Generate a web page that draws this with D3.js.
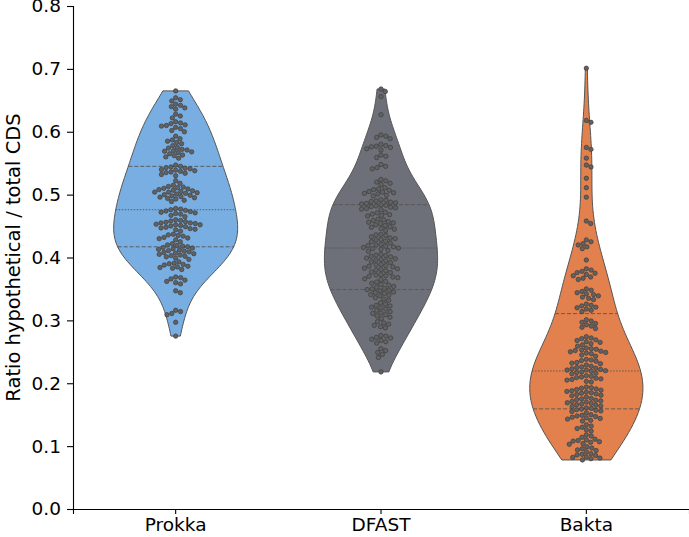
<!DOCTYPE html>
<html>
<head>
<meta charset="utf-8">
<script src="https://cdn.jsdelivr.net/npm/d3@7"></script>
<style>
  body { margin: 0; background: #fff; }
  svg text { font-family: "DejaVu Sans", sans-serif; fill: #000; }
</style>
</head>
<body>
<div id="chart"></div>
<script>
// tools on the x axis
const categories = ["Prokka", "DFAST", "Bakta"];

// ratio hypothetical / total CDS
const prokka = [
  0.665,
  0.654, 0.651, 0.649,
  0.644, 0.642, 0.640, 0.638, 0.636,
  0.628, 0.625, 0.622,
  0.616, 0.614, 0.613, 0.611, 0.610, 0.609, 0.607, 0.605, 0.602, 0.600,
  0.593, 0.589, 0.587, 0.585, 0.583, 0.581, 0.578,
  0.575, 0.574, 0.572, 0.571, 0.570, 0.569, 0.568, 0.567, 0.565, 0.563, 0.562, 0.560, 0.558,
  0.547, 0.545, 0.544, 0.543, 0.542, 0.541, 0.540, 0.539, 0.538, 0.537, 0.536, 0.535, 0.534, 0.532, 0.530,
  0.522, 0.518,
  0.515, 0.513, 0.512, 0.511, 0.510, 0.509, 0.508, 0.507, 0.506, 0.505, 0.504, 0.504, 0.503, 0.502, 0.501,
  0.500, 0.499, 0.498, 0.497, 0.496, 0.495, 0.494, 0.493, 0.491, 0.489,
  0.478, 0.477, 0.476, 0.475, 0.474, 0.473, 0.472, 0.471, 0.470, 0.469, 0.467, 0.465,
  0.460, 0.459, 0.458, 0.457, 0.456, 0.455, 0.455, 0.454, 0.453, 0.452, 0.452, 0.451, 0.450, 0.449, 0.448,
  0.447, 0.446, 0.445, 0.444, 0.442,
  0.437, 0.436, 0.435, 0.434, 0.432, 0.431, 0.430, 0.428, 0.425, 0.422,
  0.420, 0.419, 0.418, 0.417, 0.416, 0.415, 0.414, 0.413, 0.412, 0.411, 0.410, 0.409, 0.408, 0.407,
  0.406, 0.405, 0.404, 0.403, 0.402, 0.401, 0.399, 0.397,
  0.393, 0.391, 0.390, 0.389, 0.388, 0.386, 0.385, 0.384, 0.383, 0.381,
  0.369, 0.368, 0.366, 0.364, 0.362, 0.360, 0.358,
  0.347, 0.344,
  0.316, 0.314, 0.311, 0.309,
  0.297,
  0.275
];

const dfast = [
  0.668, 0.664,
  0.656,
  0.627,
  0.595, 0.593, 0.591, 0.589,
  0.580, 0.578, 0.577, 0.576, 0.575, 0.573, 0.571,
  0.563, 0.561, 0.559,
  0.548, 0.545, 0.543, 0.541,
  0.524, 0.522, 0.520, 0.518, 0.516,
  0.511, 0.509, 0.508, 0.507, 0.505, 0.504, 0.503, 0.502, 0.501, 0.499, 0.498,
  0.492, 0.491, 0.490, 0.489, 0.488, 0.487, 0.486, 0.485, 0.484, 0.483, 0.482, 0.481, 0.480, 0.479, 0.478, 0.477, 0.476,
  0.472, 0.471, 0.469, 0.468, 0.467, 0.466,
  0.461, 0.460, 0.459, 0.457, 0.456, 0.455, 0.454, 0.452, 0.451,
  0.449, 0.448, 0.446, 0.445, 0.443,
  0.437, 0.436, 0.435, 0.433, 0.431, 0.430, 0.429, 0.428, 0.426, 0.425, 0.423,
  0.421, 0.420, 0.419, 0.418, 0.417, 0.416, 0.415, 0.414, 0.413, 0.411, 0.410,
  0.405, 0.404, 0.403, 0.402, 0.401, 0.399, 0.398, 0.397, 0.396, 0.395, 0.393, 0.392,
  0.389, 0.388, 0.387, 0.386, 0.385, 0.383, 0.382, 0.381, 0.380, 0.379, 0.377, 0.376,
  0.373, 0.372, 0.371, 0.370, 0.369, 0.368, 0.366, 0.365,
  0.362, 0.361, 0.359, 0.357, 0.356, 0.354, 0.353,
  0.351, 0.350, 0.349, 0.348, 0.347, 0.345, 0.344, 0.343, 0.341, 0.340,
  0.339, 0.336, 0.334, 0.332, 0.328,
  0.326, 0.324, 0.323, 0.321, 0.320, 0.318, 0.316, 0.314,
  0.312, 0.311, 0.309, 0.307, 0.305, 0.303,
  0.298, 0.296, 0.294, 0.292, 0.290, 0.288,
  0.276, 0.275, 0.273, 0.272, 0.270, 0.268, 0.266, 0.264,
  0.255, 0.252, 0.249, 0.246,
  0.241,
  0.218
];

const bakta = [
  0.701,
  0.618, 0.615,
  0.575, 0.572,
  0.558,
  0.547, 0.544,
  0.526,
  0.511,
  0.496,
  0.458, 0.454,
  0.428, 0.425, 0.422, 0.420, 0.417, 0.414,
  0.396,
  0.382, 0.380, 0.378, 0.376, 0.375, 0.373, 0.371, 0.369, 0.367, 0.365,
  0.350, 0.348, 0.346, 0.344, 0.342, 0.341, 0.339, 0.337, 0.335, 0.333,
  0.326, 0.324, 0.323, 0.321, 0.320, 0.318, 0.316, 0.314,
  0.301, 0.299, 0.297, 0.295, 0.293, 0.291, 0.289, 0.287,
  0.274, 0.272, 0.271, 0.269, 0.268, 0.266, 0.265, 0.263, 0.261, 0.259,
  0.256, 0.255, 0.254, 0.253, 0.252, 0.251, 0.250, 0.249, 0.248, 0.247, 0.245, 0.243,
  0.238, 0.237, 0.236, 0.235, 0.233, 0.232, 0.231, 0.229,
  0.227, 0.226, 0.225, 0.224, 0.223, 0.222, 0.221, 0.221, 0.220, 0.219, 0.218, 0.217, 0.216, 0.215,
  0.212, 0.211, 0.210, 0.209, 0.208, 0.207, 0.206, 0.205, 0.203, 0.202,
  0.194, 0.193, 0.192, 0.191, 0.190, 0.189, 0.188, 0.187, 0.186, 0.185, 0.184, 0.183, 0.182, 0.181, 0.180, 0.178,
  0.176, 0.175, 0.174, 0.173, 0.172, 0.171, 0.170, 0.169, 0.168, 0.167, 0.166, 0.165, 0.164, 0.163,
  0.161, 0.160, 0.159, 0.158, 0.157, 0.156, 0.155, 0.153,
  0.150, 0.149, 0.148, 0.147, 0.146, 0.145, 0.144, 0.143, 0.141, 0.140,
  0.134, 0.132, 0.130, 0.128, 0.126, 0.124,
  0.118, 0.116, 0.114,
  0.111, 0.110, 0.109, 0.108, 0.107, 0.106, 0.104, 0.103,
  0.099, 0.097, 0.096, 0.094, 0.093, 0.091,
  0.088, 0.087, 0.086, 0.085, 0.083, 0.082, 0.081, 0.080,
  0.078
];

const colors = ["#78aee2", "#6d7079", "#e2814d"];
const yTicks = [0.0, 0.1, 0.2, 0.3, 0.4, 0.5, 0.6, 0.7, 0.8];

const width = 689, height = 537;
const margin = { top: 6, right: 0, bottom: 28, left: 73 };
const plotBottom = height - margin.bottom; // 509

const svg = d3.select('#chart')
  .append('svg')
  .attr('width', width)
  .attr('height', height);

const xScale = d3.scaleBand()
  .domain(categories)
  .range([margin.left, width - margin.right])
  .paddingInner(0).paddingOuter(0);

const yScale = d3.scaleLinear()
  .domain([0, 0.8])
  .range([plotBottom, margin.top]);

// gaussian kde, scott bandwidth (a bit widened), cut at data range
const bwAdjust = 1.1;
function kde(values, n) {
  const sorted = values.slice().sort(d3.ascending);
  const sd = d3.deviation(sorted);
  const bw = bwAdjust * sd * Math.pow(sorted.length, -1 / 5);
  const lo = sorted[0], hi = sorted[sorted.length - 1];
  const grid = d3.range(n).map(i => lo + (hi - lo) * i / (n - 1));
  const k = 1 / (Math.sqrt(2 * Math.PI) * bw * sorted.length);
  return grid.map(g => [g, k * d3.sum(sorted, v => Math.exp(-0.5 * ((g - v) / bw) ** 2))]);
}

function densityAt(dens, v) {
  const i = d3.bisector(d => d[0]).left(dens, v);
  if (i <= 0) return dens[0][1];
  if (i >= dens.length) return dens[dens.length - 1][1];
  const a = dens[i - 1], b = dens[i];
  const t = (v - a[0]) / (b[0] - a[0]);
  return a[1] + t * (b[1] - a[1]);
}

const groups = [prokka, dfast, bakta].map((vals, i) => ({
  name: categories[i],
  values: vals,
  dens: kde(vals, 100),
  color: colors[i]
}));

const maxDens = d3.max(groups, g => d3.max(g.dens, d => d[1]));
const halfWidth = d3.scaleLinear().domain([0, maxDens]).range([0, 62]);

// violins
groups.forEach(g => {
  const cx = xScale(g.name) + xScale.bandwidth() / 2;
  const area = d3.area()
    .x0(d => cx - halfWidth(d[1]))
    .x1(d => cx + halfWidth(d[1]))
    .y(d => yScale(d[0]))
    .curve(d3.curveLinear);
  svg.append('path')
    .datum(g.dens)
    .attr('d', area)
    .attr('fill', g.color)
    .attr('stroke', '#555')
    .attr('stroke-width', 1)
    .attr('stroke-linejoin', 'round');

  // quartile lines
  const sorted = g.values.slice().sort(d3.ascending);
  [[0.25, '4,2'], [0.5, '1.5,1.5'], [0.75, '4,2']].forEach(([p, dash]) => {
    const q = d3.quantile(sorted, p);
    const w = halfWidth(densityAt(g.dens, q));
    svg.append('line')
      .attr('x1', cx - w).attr('x2', cx + w)
      .attr('y1', yScale(q)).attr('y2', yScale(q))
      .attr('stroke', '#555')
      .attr('stroke-width', 0.9)
      .attr('stroke-dasharray', dash);
  });
});

// swarm placement
function beeswarm(values, cx, d) {
  const pts = values.map(v => ({ v, y: yScale(v) })).sort((a, b) => a.y - b.y);
  const placed = [];
  pts.forEach(p => {
    const near = placed.filter(q => Math.abs(q.y - p.y) < d);
    const cands = [0];
    near.forEach(q => {
      const dx = Math.sqrt(d * d - (q.y - p.y) ** 2);
      cands.push(q.dx + dx, q.dx - dx);
    });
    cands.sort((a, b) => Math.abs(a) - Math.abs(b));
    for (const c of cands) {
      if (near.every(q => (q.dx - c) ** 2 + (q.y - p.y) ** 2 >= d * d - 1e-6)) {
        p.dx = c;
        break;
      }
    }
    placed.push(p);
  });
  return placed.map(p => ({ x: cx + p.dx, y: p.y }));
}

groups.forEach(g => {
  const cx = xScale(g.name) + xScale.bandwidth() / 2;
  svg.append('g')
    .selectAll('circle')
    .data(beeswarm(g.values, cx, 5.0))
    .join('circle')
    .attr('cx', d => d.x)
    .attr('cy', d => d.y)
    .attr('r', 2.2)
    .attr('fill', '#626262')
    .attr('stroke', '#3d3d3d')
    .attr('stroke-width', 0.7);
});

// axes
const yAxis = svg.append('g')
  .attr('transform', `translate(${margin.left},0)`)
  .call(d3.axisLeft(yScale).tickValues(yTicks).tickFormat(d3.format('.1f')).tickSizeOuter(0).tickSize(6).tickPadding(6));
const xAxis = svg.append('g')
  .attr('transform', `translate(0,${plotBottom})`)
  .call(d3.axisBottom(xScale).tickSizeOuter(0).tickSize(5).tickPadding(4));

[yAxis, xAxis].forEach(ax => {
  ax.selectAll('text').style('font-size', '18.5px').style('font-family', '"DejaVu Sans", sans-serif');
  ax.selectAll('line, path').attr('stroke', '#000').attr('stroke-width', 1.1);
});

svg.append('text')
  .attr('transform', `translate(13,${(margin.top + plotBottom) / 2}) rotate(-90)`)
  .attr('text-anchor', 'middle')
  .attr('dy', '0.35em')
  .style('font-size', '19.5px')
  .text('Ratio hypothetical / total CDS');
</script>
</body>
</html>
